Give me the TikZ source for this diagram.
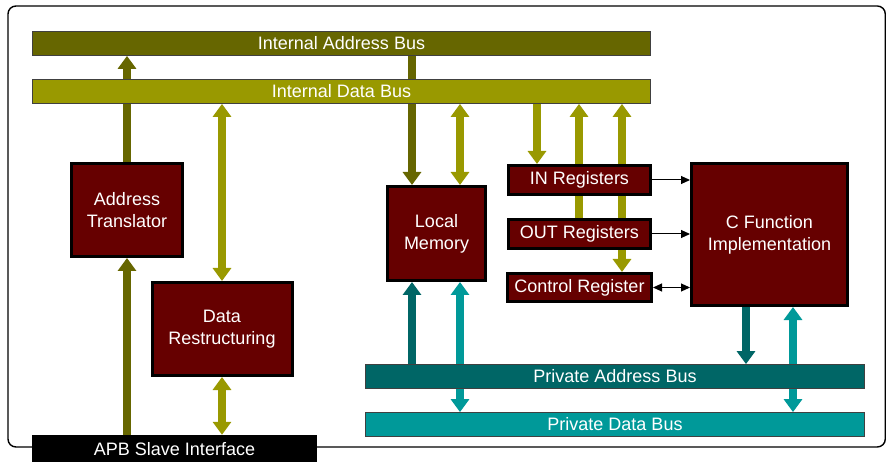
\documentclass[tikz,border=0pt]{standalone}
\usepackage{fontspec}
\setmainfont{Liberation Sans}
\usetikzlibrary{arrows.meta}
\definecolor{oldark}{HTML}{666600}
\definecolor{ollight}{HTML}{999900}
\definecolor{tldark}{HTML}{006666}
\definecolor{tllight}{HTML}{009999}
\definecolor{boxred}{HTML}{660000}
\pgfdeclarelayer{bg}
\pgfsetlayers{bg,main}
\tikzset{
  txt/.style={font=\fontsize{18}{22}\selectfont, text=white, align=center, inner sep=0pt},
  blk/.style={txt, draw=black, line width=3pt, fill=boxred},
  bus/.style={txt, draw=black!75, line width=0.8pt},
  fat/.style={line width=7.5pt},
  tipf/.tip={Triangle[width=18pt,length=13pt]},
  thinarr/.style={line width=1pt, black},
  tipt/.tip={Triangle[width=8pt,length=9pt]},
}
\begin{document}
\begin{tikzpicture}[x=1pt,y=-1pt]
\useasboundingbox (0,0) rectangle (886,462);
% outer frame
\draw[line width=1.4pt, rounded corners=8pt] (8,6) rectangle (885.3,447);
% buses
\node[bus, fill=oldark, minimum width=618pt, minimum height=24pt] (iab) at (341.5,43.5) {Internal Address Bus};
\node[bus, fill=ollight, minimum width=618pt, minimum height=24pt] (idb) at (341.5,91.5) {Internal Data Bus};
\node[bus, fill=tldark, minimum width=499pt, minimum height=24pt] (pab) at (615,376.5) {Private Address Bus};
\node[bus, fill=tllight, minimum width=499pt, minimum height=24pt] (pdb) at (615,424.5) {Private Data Bus};
\node[txt, fill=black, minimum width=285pt, minimum height=29pt] (apb) at (174.5,449.5) {APB Slave Interface};
% blocks
\node[blk, minimum width=111pt, minimum height=93pt] (at) at (127,210) {Address\\Translator};
\node[blk, minimum width=140pt, minimum height=93pt] (dr) at (222,329) {Data\\Restructuring};
\node[blk, minimum width=98pt, minimum height=94pt] (lm) at (436.5,233.5) {Local\\Memory};
\node[blk, minimum width=142pt, minimum height=29pt] (inr) at (579.5,180) {IN Registers};
\node[blk, minimum width=142pt, minimum height=29pt] (outr) at (579.5,234) {OUT Registers};
\node[blk, minimum width=144pt, minimum height=28pt] (cr) at (579.5,287.5) {Control Register};
\node[blk, minimum width=156pt, minimum height=142pt] (cf) at (769.5,234.5) {C Function\\Implementation};
% coordinates for arrow columns
\coordinate (lmA) at (412,0);
\coordinate (lmD) at (460,0);
\coordinate (inA) at (537,0);
\coordinate (outA) at (579,0);
\coordinate (crA) at (622,0);
\coordinate (cfA) at (746,0);
\coordinate (cfD) at (793,0);
\begin{pgfonlayer}{bg}
\draw[fat, oldark, -tipf] (at.north) -- (at.north |- iab.south);
\draw[fat, oldark, -tipf] (apb.north -| at) -- (at.south);
\draw[fat, oldark, -tipf] (iab.south -| lmA) -- (lm.north -| lmA);
\draw[fat, ollight, tipf-tipf] (idb.south -| dr) -- (dr.north);
\draw[fat, ollight, tipf-tipf] (dr.south) -- (apb.north -| dr);
\draw[fat, ollight, tipf-tipf] (idb.south -| lmD) -- (lm.north -| lmD);
\draw[fat, ollight, -tipf] (idb.south -| inA) -- (inr.north -| inA);
\draw[fat, ollight, -tipf] (outr.north -| outA) -- (idb.south -| outA);
\draw[fat, ollight, tipf-tipf] (idb.south -| crA) -- (cr.north -| crA);
\draw[fat, tldark, -tipf] (pab.north -| lmA) -- (lm.south -| lmA);
\draw[fat, tllight, tipf-tipf] (lm.south -| lmD) -- (pdb.north -| lmD);
\draw[fat, tldark, -tipf] (cf.south -| cfA) -- (pab.north -| cfA);
\draw[fat, tllight, tipf-tipf] (cf.south -| cfD) -- (pdb.north -| cfD);
\end{pgfonlayer}
\draw[thinarr, -tipt] (inr.east) -- (inr.east -| cf.west);
\draw[thinarr, -tipt] (outr.east) -- (outr.east -| cf.west);
\draw[thinarr, tipt-tipt] (cr.east) -- (cr.east -| cf.west);
\end{tikzpicture}
\end{document}
